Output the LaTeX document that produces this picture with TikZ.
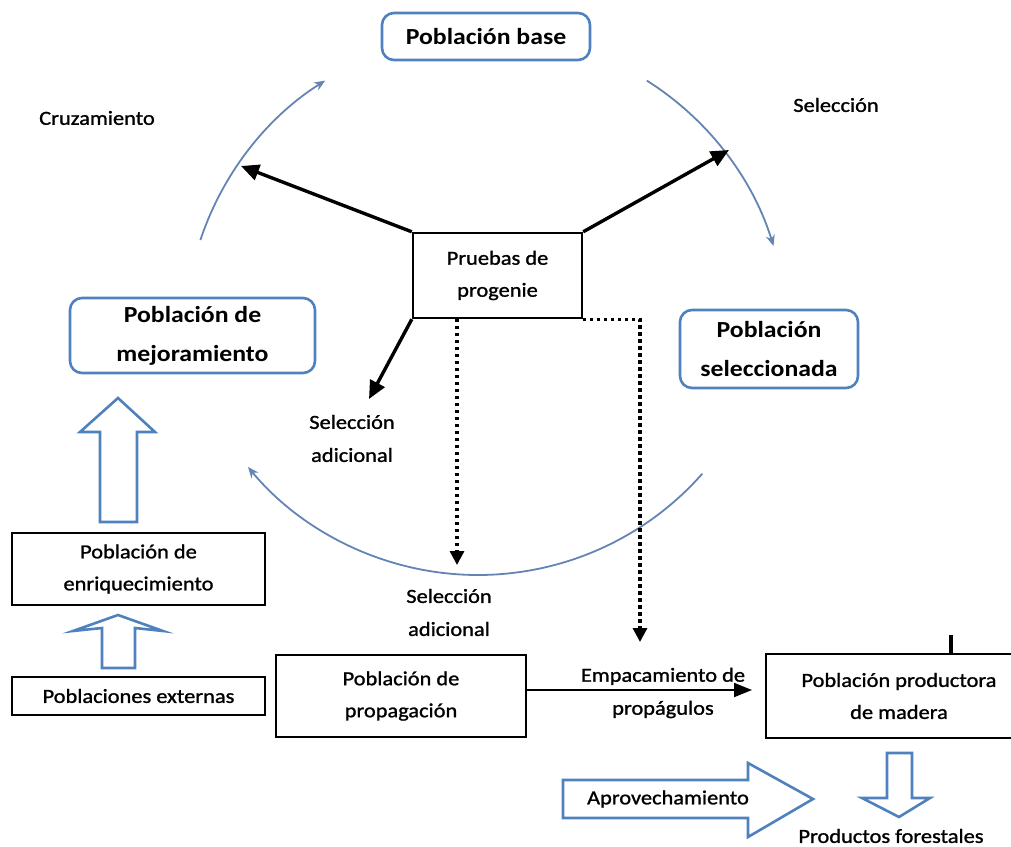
\documentclass[tikz,border=0pt]{standalone}
\usepackage{fontspec}
\setmainfont{Carlito}[FakeStretch=1.12]
\newfontfamily\heavyish{Carlito}[FakeStretch=1.12, FakeBold=1.2]
\usetikzlibrary{arrows.meta}
\definecolor{boxblue}{RGB}{79,129,189}
\definecolor{arcblue}{RGB}{100,132,180}

\begin{document}
\begin{tikzpicture}[x=1pt,y=-1pt,
  bluebox/.style={draw=boxblue, line width=2.6pt, rounded corners=12pt, align=center,
    font=\fontsize{23}{39}\selectfont\bfseries, inner sep=0pt},
  blackbox/.style={draw=black, line width=2.4pt, align=center,
    font=\heavyish\fontsize{20}{32}\selectfont, inner sep=0pt},
  txt/.style={align=center, font=\heavyish\fontsize{20}{33}\selectfont, inner sep=0pt},
  cyclearc/.style={draw=arcblue, line width=1.8pt, -{Stealth[length=11pt,width=9pt]}},
  heavyarrow/.style={line width=3.4pt, -{Triangle[length=18pt,width=16pt]}},
  dotarrow/.style={line width=3.2pt, dash pattern=on 3.2pt off 3.8pt,
    -{Triangle[length=14pt,width=14pt]}},
  blockarrow/.style={draw=boxblue, line width=2.6pt, fill=white, line join=miter}
]
\useasboundingbox (0,0) rectangle (1011,846);

% cycle of populations
\node[bluebox, minimum width=208, minimum height=47] (base) at (486,36.5) {Población base};
\node[bluebox, minimum width=245, minimum height=75] (mejor) at (192.5,335.5) {Población de\\mejoramiento};
\node[bluebox, minimum width=178, minimum height=78] (selec) at (769,349) {Población\\seleccionada};

\node[txt] (cruz) at (97,118) {Cruzamiento};
\node[txt] (selecc) at (836,105) {Selección};

\draw[cyclearc] (486,335) ++(-161.6:301) arc[start angle=-161.6, end angle=-122.3, radius=301];
\draw[cyclearc] (486,335) ++(-57.7:301) arc[start angle=-57.7, end angle=-17.2, radius=301];
\draw[cyclearc] (478,276) ++(41.4:299) arc[start angle=41.4, end angle=140.3, radius=299];

% progeny test in the middle
\node[blackbox, minimum width=169, minimum height=85] (pruebas) at (497.5,275.5) {Pruebas de\\progenie};

\coordinate (cruzTip) at (241,166);
\coordinate (selTip) at (729,150);
\coordinate (addTip) at (369,399);
\draw[heavyarrow] (pruebas.north west) -- (cruzTip);
\draw[heavyarrow] (pruebas.north east) -- (selTip);
\draw[heavyarrow] (pruebas.south west) -- (addTip);

\node[txt] (seladd1) at (352,438.5) {Selección\\adicional};
\node[txt] (seladd2) at (449,612.5) {Selección\\adicional};

\coordinate (d1) at (457,565);
\coordinate (d2) at (640,642);
\draw[dotarrow] (pruebas.south -| d1) -- (d1);
\draw[dotarrow] (pruebas.south east) -| (d2);

% left column
\node[blackbox, minimum width=253, minimum height=72] (enriq) at (138.5,569) {Población de\\enriquecimiento};
\node[blackbox, minimum width=253, minimum height=38] (externas) at (138.5,696) {Poblaciones externas};

\draw[blockarrow] (100,522) -- (137,522) -- (137,432) -- (155,432) -- (118,398)
  -- (80,432) -- (100,432) -- cycle;
\draw[blockarrow] (102,668) -- (135,668) -- (135,628) -- (163,631) -- (118,615)
  -- (73,631) -- (102,628) -- cycle;

% bottom row
\node[blackbox, minimum width=250, minimum height=82] (propag) at (401,696) {Población de\\propagación};
% the wood-producing box runs off the right-hand side
\node[blackbox, draw=none, minimum width=264, minimum height=82] (product) at (899,696) {Población productora\\de madera};
\draw[line width=2.4pt] ([xshift=20pt]product.north east) -- (product.north west)
  -- (product.south west) -- ([xshift=20pt]product.south east);

\node[txt] (empac) at (663,693) {Empacamiento de\\propágulos};
\coordinate (empTip) at (752,690);
\draw[line width=2pt, -{Triangle[length=18pt,width=14pt]}] (propag.east |- empTip) -- (empTip);

\coordinate (tick) at (951,635);
\draw[line width=4pt] (tick) -- (tick |- product.north);

% harvesting
\draw[blockarrow] (563,780) -- (748,780) -- (748,763) -- (813,799) -- (748,837)
  -- (748,818) -- (563,818) -- cycle;
\node[txt] (aprov) at (668,799) {Aprovechamiento};

\draw[blockarrow] (887,753) -- (912,753) -- (912,798) -- (930,798) -- (899,817)
  -- (862,798) -- (887,798) -- cycle;
\node[txt] (prodfor) at (891,836) {Productos forestales};

\end{tikzpicture}
\end{document}
